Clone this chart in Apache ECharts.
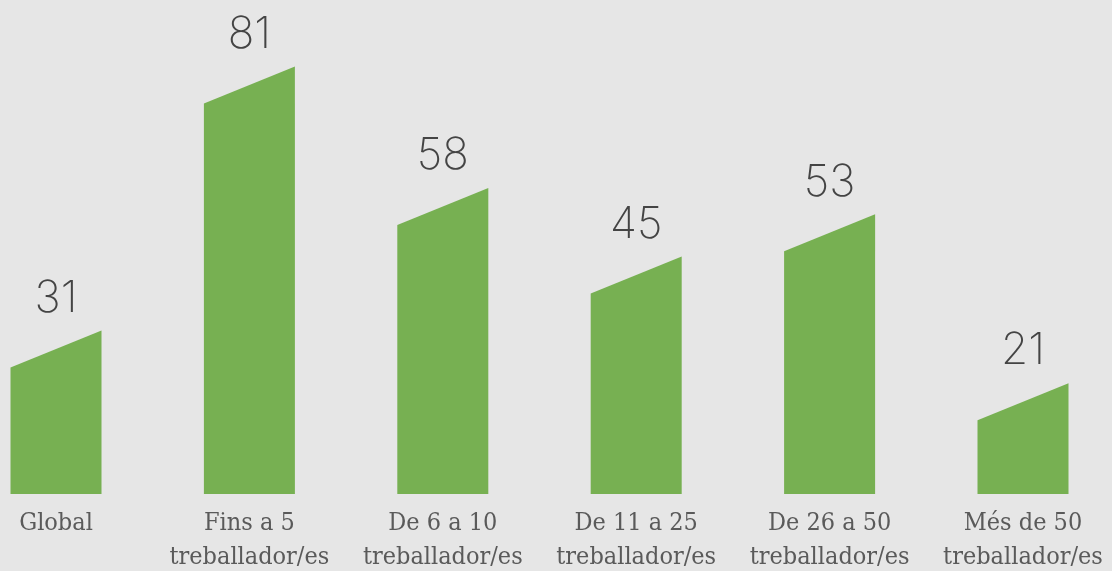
<html>
<head>
  <meta charset='utf-8' />
  <script src="https://cdn.jsdelivr.net/npm/echarts@6/dist/echarts.min.js"></script>
</head>
<body style="margin: 0; background-color: #e6e6e6">
  <div id="main" style="width: 1112px; height: 571px;"></div>
  <script type="text/javascript">
    var categories = ['Global', 'Fins a 5\ntreballador/es', 'De 6 a 10\ntreballador/es',
                      'De 11 a 25\ntreballador/es', 'De 26 a 50\ntreballador/es', 'Més de 50\ntreballador/es'];
    var values = [31, 81, 58, 45, 53, 21];

    var barWidth = 91, slant = 37;

    function renderBar(params, api) {
        var top = api.coord([api.value(0), api.value(1)]);
        var base = api.coord([api.value(0), 0]);
        var x0 = top[0] - barWidth / 2, x1 = top[0] + barWidth / 2;
        return {
            type: 'group',
            children: [{
                type: 'polygon',
                shape: {points: [[x0, base[1]], [x0, top[1] + slant], [x1, top[1]], [x1, base[1]]]},
                style: {fill: '#77b052'}
            }, {
                type: 'text',
                style: {
                    text: String(api.value(1)), x: top[0], y: top[1] - 32,
                    align: 'center', verticalAlign: 'middle',
                    font: '200 44px Inter, Lato, sans-serif', fill: '#444444'
                }
            }]
        };
    }

    var myChart = echarts.init(document.getElementById('main'));
    myChart.setOption({
        backgroundColor: '#e6e6e6',
        animation: false,
        grid: {left: 56, right: 89, top: 0, bottom: 77, outerBoundsMode: 'none', containLabel: false},
        xAxis: {
            type: 'category', data: categories, boundaryGap: false,
            axisLine: {show: false}, axisTick: {show: false},
            axisLabel: {
                interval: 0, margin: 12, fontSize: 25, lineHeight: 34, color: '#5a5a5a',
                fontFamily: 'DejaVu Serif Condensed, DejaVu Serif, serif', fontWeight: 300
            }
        },
        yAxis: {type: 'value', min: 0, max: 93.6, show: false, splitLine: {show: false}},
        series: [{
            type: 'custom',
            renderItem: renderBar,
            data: values.map(function(v, i) { return [i, v]; })
        }]
    });
  </script>
</body>
</html>
